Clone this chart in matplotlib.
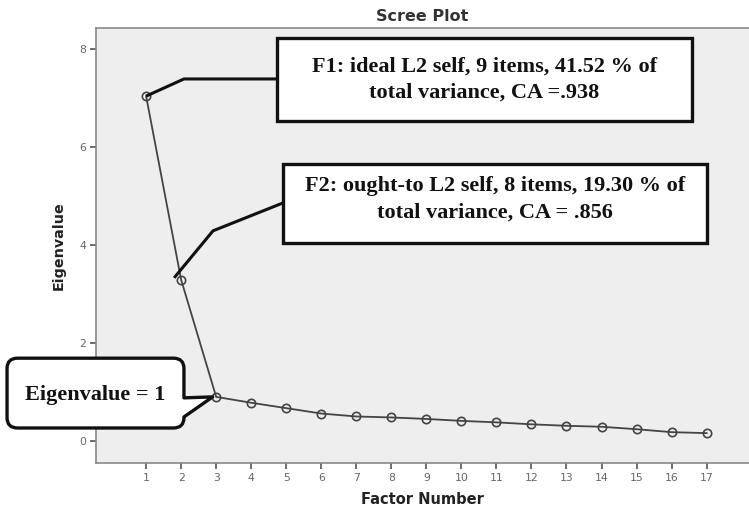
import matplotlib.pyplot as plt
from matplotlib.patches import Rectangle, PathPatch
from matplotlib.path import Path
import numpy as np

# eigenvalues
factors = list(range(1, 18))
eigen = [7.04, 3.29, 0.90, 0.78, 0.67, 0.56, 0.50, 0.48, 0.45,
         0.41, 0.38, 0.34, 0.31, 0.29, 0.24, 0.18, 0.16]

f1_text = "F1: ideal L2 self, 9 items, 41.52 % of\ntotal variance, CA =.938"
f2_text = "F2: ought-to L2 self, 8 items, 19.30 % of\ntotal variance, CA = .856"
ev_text = "Eigenvalue = 1"

fig = plt.figure(figsize=(7.49, 5.14), dpi=100)
ax = fig.add_axes([0.1282, 0.0992, 0.8718, 0.8463])
ax.set_facecolor('#eeeeee')

ax.plot(factors, eigen, color='#444444', lw=1.3, marker='o', ms=6,
        mfc='none', mec='#444444', mew=1.2, zorder=3)

ax.set_xlim(-0.43, 18.21)
ax.set_ylim(-0.45, 8.43)
ax.set_xticks(factors)
ax.set_yticks([0, 2, 4, 6, 8])

for s in ['top', 'left', 'bottom']:
    ax.spines[s].set_color('#888888')
    ax.spines[s].set_linewidth(1.2)
ax.spines['right'].set_visible(False)
ax.tick_params(length=4, width=1.2, color='#555555', labelcolor='#666666',
               labelsize=7.8, pad=3)

ax.set_title("Scree Plot", fontsize=11.5, fontweight='bold', color='#333333', pad=5)
ax.set_xlabel("Factor Number", fontsize=10.5, fontweight='bold', color='#222222', labelpad=7)
ax.set_ylabel("Eigenvalue", fontsize=10.3, fontweight='bold', color='#222222', labelpad=10)

serif = dict(family='Liberation Serif', fontweight='bold', fontsize=16,
             ha='center', va='center', linespacing=1.42, color='#111111', zorder=6)

# F1 box and connector
ax.add_patch(Rectangle((4.74, 6.53), 11.84, 1.69, fc='white', ec='#111111',
                       lw=2.4, zorder=5, clip_on=False))
ax.text(10.66, 7.37, f1_text, **serif)
ax.plot([factors[0], 2.08, 4.74], [eigen[0], 7.39, 7.39], color='#111111',
        lw=2.2, zorder=4, solid_capstyle='butt')

# F2 box and connector
ax.add_patch(Rectangle((4.91, 4.04), 12.10, 1.61, fc='white', ec='#111111',
                       lw=2.4, zorder=5, clip_on=False))
ax.text(10.96, 4.94, f2_text, **serif)
ax.plot([1.80, 2.91, 4.91], [3.33, 4.29, 4.86], color='#111111',
        lw=2.2, zorder=4, solid_capstyle='butt')

# Eigenvalue = 1 speech bubble pointing to factor 3
x0, x1, y0, y1 = -2.97, 2.08, 0.265, 1.69
rx, ry = 0.30, 0.21
tipx, tipy = factors[2], eigen[2]
verts = [
    (x0 + rx, y1), (x1 - rx, y1), (x1, y1), (x1, y1 - ry),
    (x1, 0.88), (tipx - 0.1, tipy), (x1, 0.49),
    (x1, y0 + ry), (x1, y0), (x1 - rx, y0),
    (x0 + rx, y0), (x0, y0), (x0, y0 + ry),
    (x0, y1 - ry), (x0, y1), (x0 + rx, y1),
    (x0 + rx, y1),
]
codes = [Path.MOVETO, Path.LINETO, Path.CURVE3, Path.CURVE3,
         Path.LINETO, Path.LINETO, Path.LINETO,
         Path.LINETO, Path.CURVE3, Path.CURVE3,
         Path.LINETO, Path.CURVE3, Path.CURVE3,
         Path.LINETO, Path.CURVE3, Path.CURVE3,
         Path.CLOSEPOLY]
ax.add_patch(PathPatch(Path(verts, codes), fc='white', ec='#111111', lw=2.4,
                       zorder=5, clip_on=False, joinstyle='round'))
ax.text(-0.45, 0.94, ev_text, **serif)

fig.savefig("out.png", dpi=100)
